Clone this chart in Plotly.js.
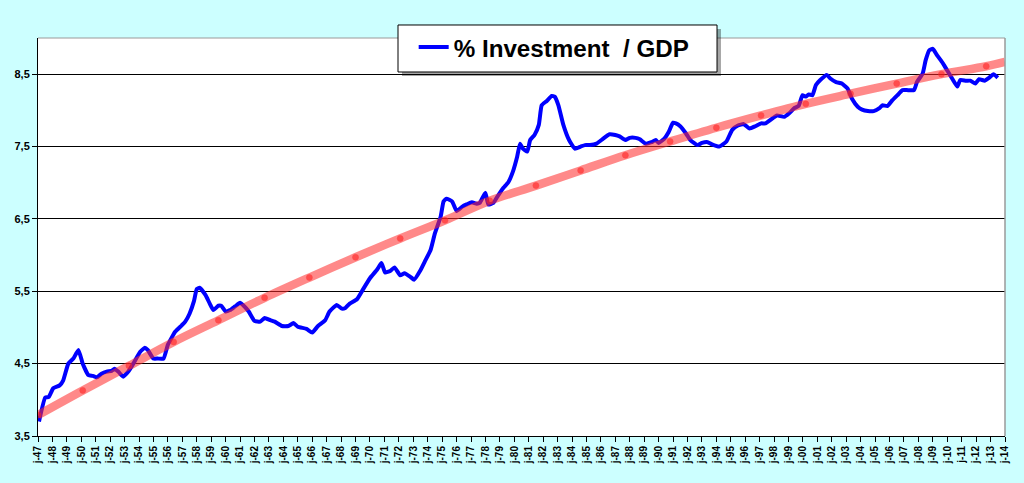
<!DOCTYPE html>
<html>
<head>
<meta charset="utf-8">
<script src="https://cdn.plot.ly/plotly-3.0.1.min.js"></script>
<style>
  html, body { margin: 0; padding: 0; background: #CCFFFF; }
  #chart { width: 1024px; height: 483px; }
</style>
</head>
<body>
<div id="chart"></div>
<script>
// Investment / GDP (%), decimal years
const investYears = [
  1947.07,1947.5,1947.75,1948.06,1948.5,1948.75,1949.1,1949.45,1949.8,1950.1,1950.5,1950.8,
  1951.07,1951.4,1951.76,1952.1,1952.3,1952.56,1952.9,1953.26,1953.6,1954.07,1954.4,1954.6,
  1954.99,1955.3,1955.7,1956.0,1956.5,1956.96,1957.2,1957.5,1957.8,1958.0,1958.2,1958.6,
  1958.9,1959.15,1959.5,1959.7,1960.0,1960.3,1960.65,1961.0,1961.2,1961.6,1962.0,1962.4,
  1962.7,1963.1,1963.4,1963.9,1964.35,1964.7,1965.0,1965.6,1966.0,1966.4,1966.9,1967.2,
  1967.7,1968.05,1968.3,1968.6,1969.1,1969.5,1970.0,1970.5,1970.8,1971.05,1971.4,1971.7,
  1972.1,1972.4,1972.8,1973.06,1973.5,1973.8,1974.2,1974.5,1974.9,1975.1,1975.3,1975.7,
  1976.0,1976.4,1976.7,1977.06,1977.4,1977.6,1978.0,1978.2,1978.55,1978.9,1979.25,1979.6,
  1979.9,1980.2,1980.4,1980.6,1980.9,1981.1,1981.4,1981.7,1981.9,1982.25,1982.6,1982.8,
  1983.06,1983.4,1983.8,1984.2,1984.6,1984.9,1985.25,1985.7,1986.1,1986.6,1987.0,1987.3,
  1987.7,1988.0,1988.4,1988.7,1989.1,1989.5,1989.8,1990.0,1990.4,1990.7,1991.0,1991.2,
  1991.5,1991.9,1992.2,1992.7,1993.0,1993.4,1993.7,1994.2,1994.7,1995.1,1995.5,1995.9,
  1996.3,1996.7,1997.1,1997.4,1997.9,1998.2,1998.7,1999.05,1999.4,1999.7,1999.97,2000.2,
  2000.4,2000.66,2000.9,2001.2,2001.65,2001.9,2002.3,2002.7,2003.1,2003.4,2003.8,2004.1,
  2004.5,2004.9,2005.3,2005.5,2005.86,2006.2,2006.55,2006.9,2007.2,2007.7,2007.9,2008.3,
  2008.5,2008.75,2009.0,2009.3,2009.7,2010.0,2010.4,2010.7,2010.9,2011.3,2011.6,2011.95,
  2012.2,2012.6,2012.9,2013.2,2013.5
];
const investValues = [
  3.70,4.03,4.04,4.16,4.20,4.27,4.50,4.57,4.69,4.50,4.34,4.33,
  4.31,4.36,4.39,4.40,4.43,4.39,4.32,4.39,4.50,4.66,4.72,4.69,
  4.57,4.57,4.57,4.76,4.94,5.03,5.08,5.19,5.36,5.53,5.55,5.45,
  5.33,5.24,5.30,5.30,5.22,5.24,5.29,5.34,5.31,5.22,5.09,5.08,
  5.13,5.10,5.08,5.02,5.02,5.06,5.01,4.98,4.93,5.02,5.10,5.22,
  5.31,5.26,5.27,5.33,5.39,5.52,5.68,5.80,5.89,5.76,5.78,5.83,
  5.72,5.75,5.70,5.66,5.79,5.91,6.07,6.30,6.53,6.74,6.78,6.74,
  6.61,6.67,6.70,6.73,6.71,6.72,6.86,6.70,6.72,6.83,6.93,7.01,
  7.15,7.36,7.54,7.47,7.43,7.59,7.66,7.80,8.07,8.13,8.20,8.19,
  8.07,7.80,7.59,7.47,7.50,7.52,7.52,7.54,7.60,7.67,7.66,7.64,
  7.59,7.62,7.62,7.60,7.54,7.56,7.59,7.55,7.61,7.70,7.83,7.82,
  7.78,7.68,7.59,7.52,7.55,7.56,7.53,7.50,7.57,7.73,7.79,7.81,
  7.75,7.78,7.82,7.82,7.89,7.93,7.91,7.96,8.03,8.06,8.21,8.19,
  8.22,8.21,8.35,8.42,8.49,8.44,8.39,8.37,8.30,8.16,8.05,8.01,
  7.99,7.99,8.03,8.07,8.06,8.14,8.21,8.28,8.28,8.28,8.39,8.51,
  8.69,8.83,8.85,8.76,8.65,8.55,8.42,8.33,8.42,8.41,8.41,8.37,
  8.43,8.41,8.45,8.50,8.45
];

// Trend curve (points with markers), decimal years
const trendYears = [
  1947.0,1950.1,1953.3,1956.4,1959.5,1962.7,1965.8,1969.0,1972.1,1975.2,1978.3,
  1981.5,1984.6,1987.7,1990.8,1994.0,1997.1,2000.2,2003.3,2006.5,2009.6,2012.7,2014.0
];
const trendValues = [
  3.79,4.13,4.47,4.80,5.10,5.41,5.69,5.97,6.23,6.48,6.75,
  6.96,7.17,7.38,7.57,7.76,7.93,8.09,8.23,8.37,8.50,8.61,8.67
];

const legendLabel = "% Investment\u00A0 / GDP";

function toDate(y) {
  const yr = Math.floor(y);
  const start = Date.UTC(yr, 0, 1);
  const end = Date.UTC(yr + 1, 0, 1);
  const d = new Date(start + (y - yr) * (end - start));
  return d.toISOString().slice(0, 10);
}

const blue = {
  x: investYears.map(toDate),
  y: investValues,
  type: 'scatter',
  mode: 'lines',
  name: legendLabel,
  line: { color: '#0000FF', width: 4, shape: 'spline', smoothing: 0.4 },
  showlegend: true
};

const trendSizes = trendYears.map((_, i) => i === trendYears.length - 1 ? 0 : 6);
const trend = {
  x: trendYears.map(toDate),
  y: trendValues,
  type: 'scatter',
  mode: 'lines+markers',
  line: { color: 'rgba(255,40,40,0.55)', width: 8.5, shape: 'spline' },
  marker: { color: 'rgba(255,30,30,0.8)', size: trendSizes },
  showlegend: false,
  hoverinfo: 'skip'
};

const layout = {
  width: 1024,
  height: 483,
  paper_bgcolor: '#CCFFFF',
  plot_bgcolor: '#FFFFFF',
  separators: ',.',
  margin: { l: 38, r: 19, t: 38, b: 47 },
  font: { family: 'Arial, "Liberation Sans", sans-serif', color: '#000' },
  xaxis: {
    type: 'date',
    range: ['1947-01-01', '2014-01-01'],
    tick0: '1947-01-01',
    dtick: 'M12',
    tickformat: 'j-%y',
    tickangle: -90,
    ticks: 'outside',
    ticklen: 5,
    tickcolor: '#000',
    tickfont: { size: 10, weight: 'bold', color: '#000' },
    showgrid: false,
    showline: true,
    linecolor: '#000',
    linewidth: 1,
    mirror: false,
    zeroline: false,
    fixedrange: true
  },
  yaxis: {
    range: [3.5, 9.0],
    tick0: 3.5,
    dtick: 1,
    tickformat: '.1f',
    ticks: 'outside',
    ticklen: 5,
    tickcolor: '#000',
    tickfont: { size: 11, weight: 'bold', color: '#000' },
    showgrid: true,
    gridcolor: '#000',
    gridwidth: 1,
    showline: true,
    linecolor: '#000',
    linewidth: 1,
    zeroline: false,
    fixedrange: true
  },
  shapes: [
    { type: 'line', xref: 'paper', yref: 'paper', x0: 0, x1: 1, y0: 1, y1: 1,
      line: { color: '#9a9a9a', width: 1 } },
    { type: 'line', xref: 'paper', yref: 'paper', x0: 1, x1: 1, y0: 0, y1: 1,
      line: { color: '#9a9a9a', width: 1.5 } },
    // legend shadow
    { type: 'rect', xref: 'paper', yref: 'paper', layer: 'above',
      x0: 0.3764, x1: 0.7063, y0: 0.9045, y1: 1.0226,
      fillcolor: 'rgba(0,0,0,0.35)', line: { width: 0 } },
    // legend box
    { type: 'rect', xref: 'paper', yref: 'paper', layer: 'above',
      x0: 0.3723, x1: 0.7022, y0: 0.9146, y1: 1.0327,
      fillcolor: '#FFFFFF', line: { color: '#000', width: 1 } }
  ],
  legend: {
    x: 0.3885, xanchor: 'left',
    y: 1.033, yanchor: 'top',
    bgcolor: 'rgba(0,0,0,0)',
    borderwidth: 0,
    font: { size: 24.2, weight: 'bold', color: '#000' },
    itemwidth: 30
  },
  showlegend: true
};

Plotly.newPlot('chart', [blue, trend], layout, { displayModeBar: false, staticPlot: true });
</script>
</body>
</html>
